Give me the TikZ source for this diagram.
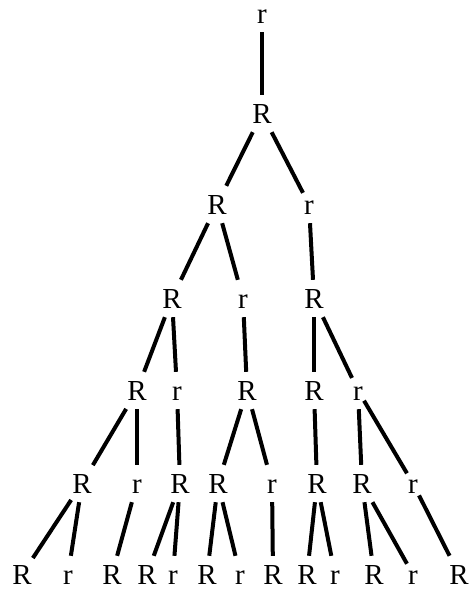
\documentclass[tikz,border=0pt]{standalone}
\usepackage{fontspec}
\setmainfont{Liberation Serif}
\begin{document}
\begin{tikzpicture}[x=1pt, y=-1pt,
  lbl/.style={anchor=base, font=\fontsize{29}{29}\selectfont,
              text height=19pt, text depth=0pt, inner xsep=1pt, inner ysep=9pt},
  ln/.style={line width=4pt, black},
]
\useasboundingbox (0,0) rectangle (470,590);

% Root
\node[lbl] (N0) at (262,23) {r};
\node[lbl] (N1) at (262,123) {R};
\draw[ln] (N0) -- (N1);

% Level 2
\node[lbl] (N21) at (217,214) {R};
\node[lbl] (N22) at (309,214) {r};
\draw[ln] (N1) -- (N21);
\draw[ln] (N1) -- (N22);

% Level 3
\node[lbl] (N31) at (172,308) {R};
\node[lbl] (N32) at (243,308) {r};
\node[lbl] (N33) at (314,308) {R};
\draw[ln] (N21) -- (N31);
\draw[ln] (N21) -- (N32);
\draw[ln] (N22) -- (N33);

% Level 4
\node[lbl] (N41) at (137,400) {R};
\node[lbl] (N42) at (177,400) {r};
\node[lbl] (N43) at (247,400) {R};
\node[lbl] (N44) at (314,400) {R};
\node[lbl] (N45) at (358,400) {r};
\draw[ln] (N31) -- (N41);
\draw[ln] (N31) -- (N42);
\draw[ln] (N32) -- (N43);
\draw[ln] (N33) -- (N44);
\draw[ln] (N33) -- (N45);

% Level 5
\node[lbl] (N51) at ( 82,493) {R};
\node[lbl] (N52) at (137,493) {r};
\node[lbl] (N53) at (180,493) {R};
\node[lbl] (N54) at (218,493) {R};
\node[lbl] (N55) at (272,493) {r};
\node[lbl] (N56) at (317,493) {R};
\node[lbl] (N57) at (362,493) {R};
\node[lbl] (N58) at (413,493) {r};
\draw[ln] (N41) -- (N51);
\draw[ln] (N41) -- (N52);
\draw[ln] (N42) -- (N53);
\draw[ln] (N43) -- (N54);
\draw[ln] (N43) -- (N55);
\draw[ln] (N44) -- (N56);
\draw[ln] (N45) -- (N57);
\draw[ln] (N45) -- (N58);

% Leaves
\node[lbl] (L1)  at ( 22,584) {R};
\node[lbl] (L2)  at ( 68,584) {r};
\node[lbl] (L3)  at (112,584) {R};
\node[lbl] (L4)  at (147,584) {R};
\node[lbl] (L5)  at (173,584) {r};
\node[lbl] (L6)  at (207,584) {R};
\node[lbl] (L7)  at (240,584) {r};
\node[lbl] (L8)  at (273,584) {R};
\node[lbl] (L9)  at (307,584) {R};
\node[lbl] (L10) at (335,584) {r};
\node[lbl] (L11) at (374,584) {R};
\node[lbl] (L12) at (413,584) {r};
\node[lbl] (L13) at (459,584) {R};
\draw[ln] (N51) -- (L1);
\draw[ln] (N51) -- (L2);
\draw[ln] (N52) -- (L3);
\draw[ln] (N53) -- (L4);
\draw[ln] (N53) -- (L5);
\draw[ln] (N54) -- (L6);
\draw[ln] (N54) -- (L7);
\draw[ln] (N55) -- (L8);
\draw[ln] (N56) -- (L9);
\draw[ln] (N56) -- (L10);
\draw[ln] (N57) -- (L11);
\draw[ln] (N57) -- (L12);
\draw[ln] (N58) -- (L13);

\end{tikzpicture}
\end{document}
